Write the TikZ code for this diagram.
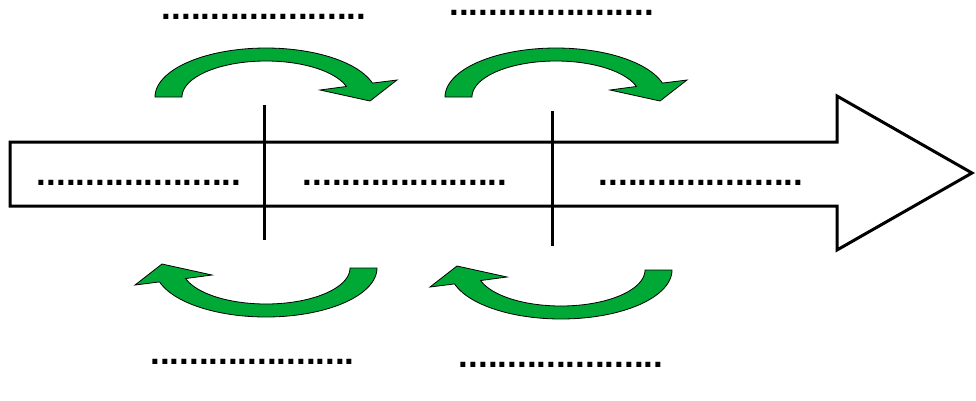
\documentclass[tikz,border=0pt]{standalone}
\usepackage{fontspec}
\setmainfont{Liberation Sans}
\definecolor{arrgreen}{RGB}{0,168,54}
\tikzset{
  dotstext/.style={font=\bfseries\fontsize{35}{40}\selectfont, inner sep=0pt, anchor=base, text height=6pt, text depth=0pt},
  bigarrow/.style={draw=black, line width=3pt, line join=miter},
  divider/.style={draw=black, line width=3pt},
  curved/.pic={
    \filldraw[fill=arrgreen, draw=black, line width=0.8pt]
      (-111,0) -- plot[domain=180:16.5, samples=60] ({111*cos(\x)},{-49*sin(\x)})
      -- (131,-17) -- (104,4) -- (54,-7)
      -- plot[domain=17:180, samples=60] ({84*cos(\x)},{-36*sin(\x)}) -- cycle;
  }
}
\begin{document}
\begin{tikzpicture}[x=1pt,y=-1pt]
\useasboundingbox (0,0) rectangle (976,400);
% main arrow
\draw[bigarrow] (10,142) -- (837,142) -- (837,96) -- (972,173) -- (837,250) -- (837,206) -- (10,206) -- cycle;
% dividers
\draw[divider] (264,105) -- (264,240);
\draw[divider] (552,111) -- (552,246);
% curved arrows
\pic at (266,97) {curved};
\pic at (556,97) {curved};
\pic[rotate=180] at (266,268) {curved};
\pic[rotate=180] at (561,270) {curved};
% texts
\node[dotstext] (t1) at (264,19.3) {.....................};
\node[dotstext] (t2) at (551.5,15.3) {.....................};
\node[dotstext] (m1) at (139,185.3) {.....................};
\node[dotstext] (m2) at (405,185.3) {.....................};
\node[dotstext] (m3) at (701,185.3) {.....................};
\node[dotstext] (b1) at (252.5,364.3) {.....................};
\node[dotstext] (b2) at (561,367.3) {.....................};
\end{tikzpicture}
\end{document}
